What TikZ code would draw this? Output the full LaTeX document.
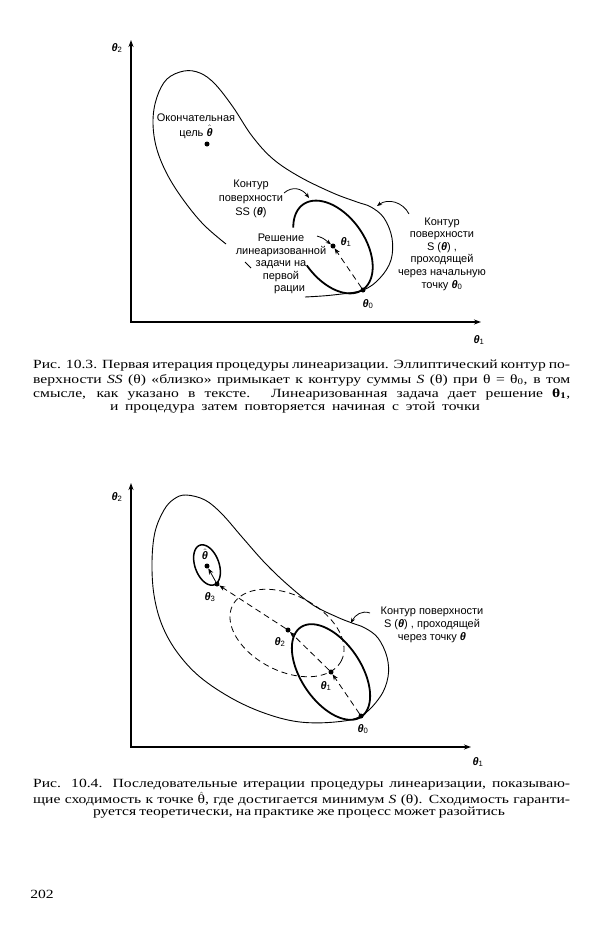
\documentclass[tikz,border=0pt]{standalone}
\usepackage{amsmath}
\usepackage{fontspec}
\setmainfont{Liberation Serif}
\newfontfamily\capfont{Liberation Serif}[FakeStretch=1.25]
\newfontfamily\lsans{Liberation Sans}
\usetikzlibrary{arrows.meta}
\newcommand{\thb}{\textbf{\textit{θ}}}
\newcommand{\thh}{\ensuremath{\hat{\text{\thb}}}}
\newcommand{\ellpath}[7]{plot[domain=#6:#7, samples=150, variable=\t] ({#1 + #3*cos(\t)*cos(#5) - #4*sin(\t)*sin(#5)}, {#2 + #3*cos(\t)*sin(#5) + #4*sin(\t)*cos(#5)})}
\tikzset{
  contourln/.style={line width=0.9pt, line join=round},
  thickell/.style={line width=1.8pt},
  dashln/.style={line width=0.8pt, dash pattern=on 6pt off 4pt},
  axisln/.style={line width=1.2pt},
  arrtip/.style={-{Stealth[length=6pt,width=4.5pt]}},
  ptdot/.style={circle, fill=black, inner sep=0pt, minimum size=5pt},
  lbl/.style={font=\lsans\fontsize{11}{12.6}\selectfont, align=center, inner sep=0pt},
  captxt/.style={font=\capfont\fontsize{12.5}{13}\selectfont, inner sep=0pt},
  arr/.style={line width=0.8pt, -{Stealth[length=5pt,width=4pt]}},
}
\begin{document}
\begin{tikzpicture}[x=1pt,y=-1pt]
\useasboundingbox (0,0) rectangle (600,927);
\fill[white] (0,0) rectangle (600,927);

% ---------------- Figure 10.3 ----------------
\coordinate (o1) at (131,322);
\coordinate (y1) at (131,40);
\coordinate (x1) at (481,322);
\draw[axisln, {Stealth[length=7pt,width=5pt]}-{Stealth[length=7pt,width=5pt]}] (y1) -- (o1) -- (x1);
\node[lbl] (a1y) at (117,48) {\thb\textsubscript{2}};
\node[lbl] (a1x) at (479,340) {\thb\textsubscript{1}};

\draw[contourln] plot[smooth, tension=0.6] coordinates {(305,297) (333,295) (363,290) (380,278) (391,260) (392,238) (384,218) (371,207) (357,202) (333,193) (300,177) (273,159) (252,136) (233,107) (215,84) (200,73) (184,71) (167,79) (157,97) (153,120) (156,146) (166,172) (182,198) (203,224) (226,244)};
\draw[contourln] (245,262) -- (251,268);

\draw[thickell] \ellpath{333}{247}{52}{32}{55}{-222}{90};

\node[ptdot] (f1t0) at (363,290) {};
\node[ptdot] (f1t1) at (333,246) {};
\node[ptdot] (f1th) at (207,144) {};
\draw[dashln, arrtip] (f1t0) -- (f1t1);

\node[lbl] (f1l0) at (368,304) {\thb\textsubscript{0}};
\node[lbl] (f1l1) at (346,242) {\thb\textsubscript{1}};
\node[lbl, font=\lsans\fontsize{11}{15}\selectfont] (f1fin) at (196,126) {Окончательная\\цель \thh};
\node[lbl, font=\lsans\fontsize{11}{14}\selectfont] (f1ss) at (251,199) {Контур\\поверхности\\SS (\thb)};
\node[lbl] (f1sol) at (281,264) {Решение\\линеаризованной\\задачи на\\первой\\\phantom{ите}рации};
\node[lbl] (f1s) at (442,254) {Контур\\поверхности\\S (\thb) ,\\проходящей\\через начальную\\точку \thb\textsubscript{0}};

\coordinate (f1ssa) at (284,193);
\coordinate (f1ssb) at (309,198);
\draw[arr] (f1ssa) .. controls (292,186) and (302,188) .. (f1ssb);
\coordinate (f1sa) at (409,214);
\coordinate (f1sb) at (377,206);
\draw[arr] (f1sa) .. controls (403,202) and (388,198) .. (f1sb);
\coordinate (f1pa) at (317,236);
\draw[arr] (f1pa) .. controls (323,238) .. (f1t1);

% caption 10.3
\node[captxt, anchor=west] (c1a) at (33,366) {\makebox[537pt][s]{Рис. 10.3. Первая итерация процедуры линеаризации. Эллиптический контур по-}};
\node[captxt, anchor=west] (c1b) at (33,380) {\makebox[537pt][s]{верхности \textit{SS} (θ) «близко» примыкает к контуру суммы \textit{S} (θ) при θ = θ\textsubscript{0}, в том}};
\node[captxt, anchor=west] (c1c) at (33,394) {\makebox[537pt][s]{смысле, как указано в тексте. Линеаризованная задача дает решение \textbf{θ\textsubscript{1}},}};
\node[captxt] (c1d) at (295,408) {\makebox[370pt][s]{и процедура затем повторяется начиная с этой точки}};

% ---------------- Figure 10.4 ----------------
\coordinate (o2) at (131,747);
\coordinate (y2) at (131,483);
\coordinate (x2) at (471,747);
\draw[axisln, {Stealth[length=7pt,width=5pt]}-{Stealth[length=7pt,width=5pt]}] (y2) -- (o2) -- (x2);
\node[lbl] (a2y) at (117,497) {\thb\textsubscript{2}};
\node[lbl] (a2x) at (478,762) {\thb\textsubscript{1}};

\draw[contourln] plot[smooth cycle, tension=0.6] coordinates {(186,495) (205,500) (222,514) (242,537) (265,563) (288,585) (313,605) (337,617) (352,623) (365,628) (378,638) (387,657) (388,677) (380,697) (361,716) (335,722) (300,722) (267,714) (233,699) (200,677) (177,652) (162,625) (154,595) (152,562) (155,532) (164,510) (174,499)};

\draw[line width=1.5pt] \ellpath{207}{565}{21}{12}{70}{0}{360};
\draw[dashln] \ellpath{287}{633}{61}{38}{27}{0}{360};
\draw[thickell] \ellpath{331}{672}{54}{30}{56}{0}{360};

\node[ptdot] (f2t0) at (361,716) {};
\node[ptdot] (f2t1) at (331,672) {};
\node[ptdot] (f2t2) at (288,630) {};
\node[ptdot] (f2t3) at (217,584) {};
\node[ptdot] (f2th) at (207,566) {};
\draw[dashln, arrtip] (f2t0) -- (f2t1);
\draw[dashln, arrtip] (f2t1) -- (f2t2);
\draw[dashln, arrtip] (f2t2) -- (f2t3);
\draw[line width=0.8pt, arrtip] (f2t3) -- (f2th);

\node[lbl] (f2lh) at (205,554) {\thh};
\node[lbl] (f2l3) at (210,597) {\thb\textsubscript{3}};
\node[lbl] (f2l2) at (280,642) {\thb\textsubscript{2}};
\node[lbl] (f2l1) at (326,686) {\thb\textsubscript{1}};
\node[lbl] (f2l0) at (363,729) {\thb\textsubscript{0}};
\node[lbl, font=\lsans\fontsize{11}{13}\selectfont] (f2s) at (432,625) {Контур поверхности\\S (\thb) , проходящей\\через точку \thb};
\coordinate (f2sa) at (370,613);
\coordinate (f2sb) at (351,623);
\draw[arr] (f2sa) .. controls (362,610) and (355,615) .. (f2sb);

% caption 10.4
\node[captxt, anchor=west] (c2a) at (33,785) {\makebox[537pt][s]{Рис. 10.4. Последовательные итерации процедуры линеаризации, показываю-}};
\node[captxt, anchor=west] (c2b) at (33,799) {\makebox[537pt][s]{щие сходимость к точке $\hat{\text{θ}}$, где достигается минимум \textit{S} (θ). Сходимость гаранти-}};
\node[captxt] (c2c) at (299,813) {\makebox[412pt][s]{руется теоретически, на практике же процесс может разойтись}};

\node[captxt] (pg) at (42,894) {202};
\end{tikzpicture}
\end{document}
